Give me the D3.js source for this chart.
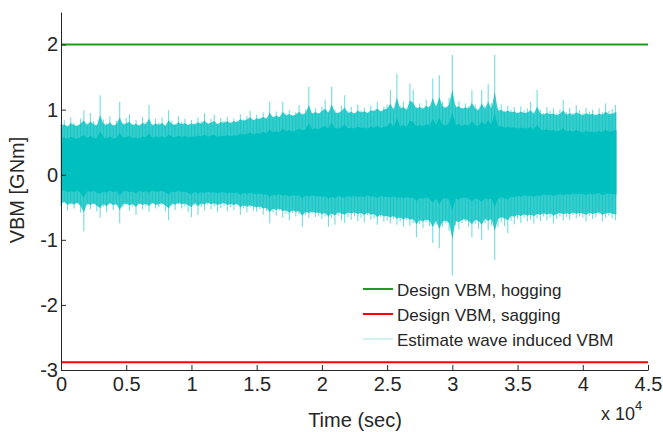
<!DOCTYPE html>
<html>
<head>
<meta charset="utf-8">
<script src="https://cdn.jsdelivr.net/npm/d3@7/dist/d3.min.js"></script>
<style>
  html, body { margin: 0; padding: 0; background: #fff; }
  svg { display: block; }
  text { font-family: "Liberation Sans", Arial, Helvetica, sans-serif; fill: #262626; }
</style>
</head>
<body>
<svg id="chart" width="663" height="432"></svg>
<script>
// ---------------- data ----------------
const xTicks = [0, 5000, 10000, 15000, 20000, 25000, 30000, 35000, 40000, 45000];
const yTicks = [-3, -2, -1, 0, 1, 2];
const designHogging = 2.0;    // GNm
const designSagging = -2.88;  // GNm
const signalEnd = 42580;      // sec

// coarse envelope of the dense band (time in sec, values in GNm)
const envTime = [0, 2500, 5000, 7500, 10000, 12500, 15000, 17500, 20000, 22500, 25000, 27500, 30000, 32500, 35000, 37500, 40000, 42580];
const coreHi  = [0.55, 0.55, 0.55, 0.56, 0.57, 0.58, 0.62, 0.66, 0.70, 0.70, 0.72, 0.74, 0.75, 0.74, 0.70, 0.66, 0.64, 0.64];
const coreLo  = [-0.24, -0.24, -0.24, -0.24, -0.24, -0.25, -0.27, -0.29, -0.31, -0.30, -0.31, -0.33, -0.34, -0.33, -0.30, -0.28, -0.27, -0.27];
const fuzzHi  = [0.74, 0.75, 0.75, 0.75, 0.76, 0.78, 0.84, 0.90, 0.94, 0.93, 0.98, 1.01, 1.02, 0.98, 0.93, 0.90, 0.90, 0.90];
const fuzzLo  = [-0.42, -0.43, -0.43, -0.43, -0.41, -0.41, -0.46, -0.52, -0.56, -0.54, -0.60, -0.66, -0.68, -0.64, -0.58, -0.56, -0.56, -0.56];

// peak values every 250 sec (sample i at t = 250*i)
const peakStep = 250;
const peakHi = [
  0.78, 0.84, 0.74, 0.88, 0.80, 0.76, 0.86, 0.99, 0.79, 0.95,
  0.82, 0.77, 1.22, 0.85, 0.79, 0.90, 0.76, 0.83, 1.12, 0.80,
  0.87, 0.93, 0.78, 0.84, 0.76, 0.89, 0.81, 1.07, 0.77, 0.86,
  0.80, 0.88, 0.75, 0.99, 0.83, 0.78, 0.90, 0.81, 0.86, 0.77,
  0.84, 0.79, 0.88, 0.82, 0.95, 0.80, 0.86, 0.92, 0.78, 0.87,
  0.83, 0.89, 0.80, 0.86, 0.82, 0.93, 0.85, 0.90, 0.98, 0.84,
  0.92, 0.88, 0.96, 0.86, 1.12, 0.90, 0.97, 0.89, 1.12, 0.94,
  0.99, 0.91, 0.96, 1.07, 0.93, 1.00, 1.35, 0.95, 1.02, 0.94,
  1.05, 1.15, 0.97, 1.35, 1.00, 0.96, 1.06, 1.22, 0.98, 1.04,
  0.95, 1.08, 0.99, 1.03, 0.94, 1.06, 1.00, 1.12, 0.97, 1.05,
  1.08, 1.30, 1.02, 1.55, 1.06, 1.12, 1.00, 1.40, 1.30, 1.04,
  1.10, 1.02, 1.15, 1.06, 1.48, 1.08, 1.53, 1.12, 1.04, 1.18,
  1.84, 1.07, 1.13, 1.02, 1.10, 1.05, 1.30, 1.08, 1.00, 1.30,
  1.06, 1.39, 1.10, 1.84, 1.03, 1.08, 0.98, 1.06, 1.00, 1.04,
  0.96, 1.05, 0.99, 1.02, 1.12, 0.97, 1.30, 1.00, 0.95, 1.04,
  0.98, 1.02, 0.94, 1.00, 1.15, 0.96, 1.03, 0.95, 1.07, 0.99,
  0.94, 1.03, 0.97, 1.00, 0.93, 1.02, 0.96, 1.10, 0.98, 1.01,
  1.07
];
const peakLo = [
  -0.48, -0.42, -0.55, -0.46, -0.52, -0.44, -0.58, -0.87, -0.47, -0.53,
  -0.45, -0.56, -0.66, -0.49, -0.58, -0.44, -0.54, -0.47, -0.745, -0.50,
  -0.46, -0.55, -0.49, -0.62, -0.45, -0.53, -0.48, -0.57, -0.44, -0.52,
  -0.50, -0.46, -0.56, -0.70, -0.48, -0.54, -0.45, -0.52, -0.49, -0.57,
  -0.65, -0.47, -0.62, -0.50, -0.55, -0.46, -0.53, -0.49, -0.57, -0.51,
  -0.48, -0.56, -0.50, -0.54, -0.47, -0.62, -0.52, -0.58, -0.50, -0.55,
  -0.57, -0.53, -0.61, -0.56, -0.745, -0.58, -0.63, -0.55, -0.66, -0.60,
  -0.70, -0.59, -0.64, -0.61, -0.80, -0.62, -0.67, -0.60, -0.65, -0.63,
  -0.68, -0.64, -0.80, -0.66, -0.77, -0.63, -0.70, -0.74, -0.65, -0.69,
  -0.64, -0.71, -0.66, -0.73, -0.62, -0.69, -0.67, -0.77, -0.65, -0.72,
  -0.70, -0.75, -0.68, -0.77, -0.72, -0.80, -0.70, -0.78, -0.74, -0.96,
  -0.76, -0.82, -0.73, -0.79, -1.05, -0.77, -1.13, -0.80, -0.75, -0.86,
  -1.55, -0.78, -0.84, -0.74, -0.72, -0.80, -0.96, -0.76, -0.83, -1.00,
  -0.74, -0.85, -0.78, -1.31, -0.80, -0.73, -0.79, -0.90, -0.71, -0.76,
  -0.68, -0.74, -0.66, -0.72, -0.69, -0.75, -0.67, -0.71, -0.64, -0.70,
  -0.66, -0.745, -0.68, -0.64, -0.70, -0.65, -0.69, -0.62, -0.67, -0.64,
  -0.66, -0.72, -0.63, -0.68, -0.65, -0.61, -0.72, -0.66, -0.63, -0.67,
  -0.70
];

const legendLabels = ["Design VBM, hogging", "Design VBM, sagging", "Estimate wave induced VBM"];

// ---------------- drawing ----------------
const svg = d3.select("#chart");
const x = d3.scaleLinear().domain([0, 45000]).range([61, 648]);
const y = d3.scaleLinear().domain([-3, 2.5]).range([370, 12]);

const cyan = "#00bfbf";
// envelope lookups along time (linear between the read envelope points)
const env = key => d3.scaleLinear().domain(envTime).range(key).clamp(true);
const cH = env(coreHi), cL = env(coreLo), fH = env(fuzzHi), fL = env(fuzzLo);
const peaks = peakHi.map((h, i) => ({ t: Math.min(i * peakStep, signalEnd), h, l: peakLo[i] }));
const band = peaks.concat([{ t: signalEnd, h: peakHi[peakHi.length - 1], l: peakLo[peakLo.length - 1] }]);

// spikes
svg.append("g").selectAll("line").data(peaks).join("line")
  .attr("x1", d => x(d.t)).attr("x2", d => x(d.t))
  .attr("y1", d => y(d.h)).attr("y2", d => y(d.l))
  .attr("stroke", cyan).attr("stroke-opacity", 0.55).attr("stroke-width", 1.1);

// fuzzy band, its edge follows the local peaks
svg.append("path").datum(band)
  .attr("d", d3.area().x(d => x(d.t))
    .y0(d => y(fL(d.t) + 0.35 * (d.l - fL(d.t))))
    .y1(d => y(fH(d.t) + 0.35 * (d.h - fH(d.t)))))
  .attr("fill", cyan).attr("fill-opacity", 0.78);

// dense core
svg.append("path").datum(band)
  .attr("d", d3.area().x(d => x(d.t))
    .y0(d => y(cL(d.t) + 0.25 * (d.l - fL(d.t))))
    .y1(d => y(cH(d.t) + 0.25 * (d.h - fH(d.t)))))
  .attr("fill", cyan);

// design lines
svg.append("line").attr("x1", x(0)).attr("x2", x(45000))
  .attr("y1", y(designHogging)).attr("y2", y(designHogging))
  .attr("stroke", "#1f9a22").attr("stroke-width", 2);
svg.append("line").attr("x1", x(0)).attr("x2", x(45000))
  .attr("y1", y(designSagging)).attr("y2", y(designSagging))
  .attr("stroke", "#ff0000").attr("stroke-width", 2);

// axes
const axisColor = "#262626";
const gx = svg.append("g").attr("transform", `translate(0,${y(-3)})`)
  .call(d3.axisBottom(x).tickValues(xTicks).tickFormat(d => String(d / 1e4))
    .tickSizeInner(-5).tickSizeOuter(0).tickPadding(7));
const gy = svg.append("g").attr("transform", `translate(${x(0)},0)`)
  .call(d3.axisLeft(y).tickValues(yTicks).tickFormat(d => String(d))
    .tickSizeInner(-5).tickSizeOuter(0).tickPadding(3));
[gx, gy].forEach(g => {
  g.select(".domain").attr("stroke", axisColor);
  g.selectAll(".tick line").attr("stroke", axisColor);
  g.selectAll(".tick text").attr("fill", axisColor).style("font-size", "20px")
    .style("font-family", '"Liberation Sans", Arial, sans-serif');
});

// axis labels
svg.append("text").attr("x", 355).attr("y", 427).attr("text-anchor", "middle")
  .style("font-size", "20px").text("Time (sec)");
svg.append("text").attr("transform", "translate(24,190) rotate(-90)").attr("text-anchor", "middle")
  .style("font-size", "20px").text("VBM [GNm]");
const exp = svg.append("text").attr("x", 601).attr("y", 420).style("font-size", "18px");
exp.append("tspan").text("x 10");
exp.append("tspan").attr("dy", -10).style("font-size", "13px").text("4");

// legend
const legColors = ["#1f9a22", "#ff0000", "#9fe3e3"];
const legWidths = [2, 2, 1];
const leg = svg.append("g").selectAll("g").data(legendLabels).join("g")
  .attr("transform", (d, i) => `translate(363,${289 + i * 25})`);
leg.append("line").attr("x1", 0).attr("x2", 30).attr("y1", 0).attr("y2", 0)
  .attr("stroke", (d, i) => legColors[i]).attr("stroke-width", (d, i) => legWidths[i]);
leg.append("text").attr("x", 34).attr("y", 6.5).style("font-size", "17px").text(d => d);
</script>
</body>
</html>
